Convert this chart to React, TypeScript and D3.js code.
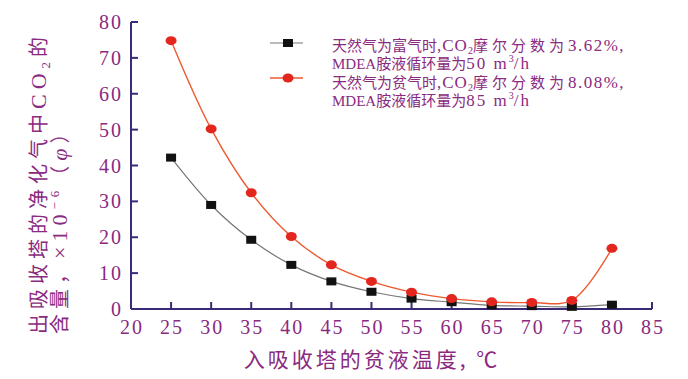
import React from "react";
import * as d3 from "d3";

const temps = [25, 30, 35, 40, 45, 50, 55, 60, 65, 70, 75, 80];
const richGas = [42.2, 29.0, 19.3, 12.3, 7.7, 4.8, 2.9, 1.9, 1.0, 0.8, 0.6, 1.2];
const leanGas = [74.8, 50.2, 32.4, 20.2, 12.3, 7.7, 4.7, 2.9, 2.0, 1.8, 2.4, 16.9];
const xTicks = [20, 25, 30, 35, 40, 45, 50, 55, 60, 65, 70, 75, 80, 85];
const yTicks = [0, 10, 20, 30, 40, 50, 60, 70, 80];

const AXIS = "#3b2a78";
const TEXT = "#8a2a80";
const RED_LINE = "#ee5a30";
const RED_MARK = "#e3261e";

export default function App() {
  const W = 688, H = 379;
  const x = d3.scaleLinear().domain([20, 85]).range([131, 652]);
  const y = d3.scaleLinear().domain([0, 80]).range([309, 22]);
  const line = d3
    .line<number>()
    .x((_, i) => x(temps[i]))
    .y((d) => y(d))
    .curve(d3.curveCatmullRom.alpha(0.5));
  const serif = "'Liberation Serif', 'DejaVu Serif', serif";
  const cjk = "'Noto Sans CJK SC', sans-serif";
  const legendRows = [
    { y: 51, pre: "天然气为富气时", post: "摩尔分数为", num: "3.62%," },
    { y: 88, pre: "天然气为贫气时", post: "摩尔分数为", num: "8.08%," },
  ];
  const legendRows2 = [
    { y: 69, flow: "50" },
    { y: 106, flow: "85" },
  ];
  return (
    <svg width={W} height={H} style={{ position: "absolute", left: 0, top: 0, background: "#fff" }}>
      {/* axes */}
      <line x1={x(20)} x2={x(20)} y1={y(80)} y2={y(0)} stroke={AXIS} strokeWidth={2} />
      <line x1={x(20)} x2={x(85)} y1={y(0)} y2={y(0)} stroke={AXIS} strokeWidth={2} />
      {yTicks.map((t) => (
        <g key={"y" + t}>
          <line x1={x(20)} x2={x(20) + 7} y1={y(t)} y2={y(t)} stroke={AXIS} strokeWidth={2} />
          <text x={x(20) - 8} y={y(t)} dy="0.35em" textAnchor="end" fontFamily={serif} fontSize={20} letterSpacing={2} fill={TEXT}>
            {t}
          </text>
        </g>
      ))}
      {xTicks.map((t) => (
        <g key={"x" + t}>
          <line x1={x(t)} x2={x(t)} y1={y(0)} y2={y(0) - 7} stroke={AXIS} strokeWidth={2} />
          <text x={x(t) + 1} y={y(0) + 25} textAnchor="middle" fontFamily={serif} fontSize={20} letterSpacing={2} fill={TEXT}>
            {t}
          </text>
        </g>
      ))}
      {/* series */}
      <path d={line(richGas) || ""} fill="none" stroke="#777" strokeWidth={1.2} />
      <path d={line(leanGas) || ""} fill="none" stroke={RED_LINE} strokeWidth={1.4} />
      {richGas.map((v, i) => (
        <rect key={"r" + i} x={x(temps[i]) - 5} y={y(v) - 4} width={10} height={8} fill="#111" />
      ))}
      {leanGas.map((v, i) => (
        <ellipse key={"l" + i} cx={x(temps[i])} cy={y(v)} rx={5.5} ry={4.5} fill={RED_MARK} />
      ))}
      {/* legend */}
      <line x1={270} x2={303} y1={43} y2={43} stroke="#777" strokeWidth={1.2} />
      <rect x={283} y={39} width={10} height={8} fill="#111" />
      <line x1={270} x2={303} y1={78} y2={78} stroke={RED_LINE} strokeWidth={1.4} />
      <ellipse cx={288} cy={78} rx={5.5} ry={4.5} fill={RED_MARK} />
      <g fontFamily={cjk} fontSize={15} fill={TEXT}>
        {legendRows.map((r) => (
          <text key={r.y} x={332} y={r.y}>
            <tspan>{r.pre}</tspan>
            <tspan fontFamily={serif} fontSize={17} letterSpacing={1}>,CO</tspan>
            <tspan fontFamily={serif} fontSize={10} dy={3}>2</tspan>
            <tspan dy={-3} letterSpacing={4}>{r.post}</tspan>
            <tspan fontFamily={serif} fontSize={17} letterSpacing={1.5}>{r.num}</tspan>
          </text>
        ))}
        {legendRows2.map((r) => (
          <text key={r.y} x={332} y={r.y}>
            <tspan fontFamily={serif} fontSize={15}>MDEA</tspan>
            <tspan>胺液循环量为</tspan>
            <tspan fontFamily={serif} fontSize={17} letterSpacing={2}>{r.flow + " m"}</tspan>
            <tspan fontFamily={serif} fontSize={10} dy={-7}>3</tspan>
            <tspan fontFamily={serif} fontSize={17} dy={7} letterSpacing={2}>/h</tspan>
          </text>
        ))}
      </g>
      {/* y label */}
      <g fontFamily={cjk} fontSize={20} fill={TEXT} letterSpacing={5}>
        <text transform="translate(46,334) rotate(-90)">
          <tspan>出吸收塔的净化气中</tspan>
          <tspan fontFamily={serif} fontSize={22}>CO</tspan>
          <tspan fontFamily={serif} fontSize={13} dy={4}>2</tspan>
          <tspan dy={-4}>的</tspan>
        </text>
        <text transform="translate(67,334) rotate(-90)">
          <tspan>含量，</tspan>
          <tspan fontFamily={serif} fontSize={22}>×10</tspan>
          <tspan fontFamily={serif} fontSize={13} dy={-8}>−6</tspan>
          <tspan dy={8}>（</tspan>
          <tspan fontFamily={serif} fontStyle="italic" fontSize={22}>φ</tspan>
          <tspan>）</tspan>
        </text>
      </g>
      {/* x label */}
      <text x={372} y={367} textAnchor="middle" fontFamily={cjk} fontSize={21} fill={TEXT} letterSpacing={3}>
        入吸收塔的贫液温度, ℃
      </text>
    </svg>
  );
}
